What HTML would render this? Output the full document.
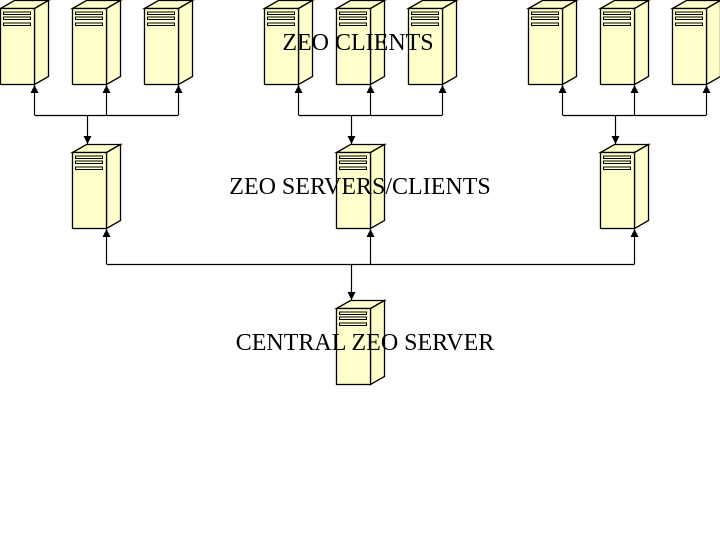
<!DOCTYPE html>
<html><head><style>html,body{margin:0;padding:0;background:#fff}svg{display:block}</style></head>
<body>
<svg width="720" height="540" viewBox="0 0 720 540" xmlns="http://www.w3.org/2000/svg">
<defs>
<g id="srv" stroke="#000" stroke-width="1.3" fill="#ffffcc">
<polygon points="0.5,8.5 14.5,0.5 48.5,0.5 34.5,8.5"/>
<polygon points="34.5,8.5 48.5,0.5 48.5,76.5 34.5,84.5"/>
<rect x="0.5" y="8.5" width="34" height="76"/>
<rect x="3.5" y="12" width="27" height="2.5" stroke-width="1"/>
<rect x="3.5" y="17" width="27" height="2.5" stroke-width="1"/>
<rect x="3.5" y="23" width="27" height="2.5" stroke-width="1"/>
</g>
<marker id="ar" markerWidth="8" markerHeight="8" refX="8" refY="4" orient="auto" markerUnits="userSpaceOnUse">
<polygon points="0,0 8,4 0,8" fill="#000"/></marker>
</defs>
<g>
<use href="#srv" x="0" y="0"/><use href="#srv" x="72" y="0"/><use href="#srv" x="144" y="0"/>
<use href="#srv" x="264" y="0"/><use href="#srv" x="336" y="0"/><use href="#srv" x="408" y="0"/>
<use href="#srv" x="528" y="0"/><use href="#srv" x="600" y="0"/><use href="#srv" x="672" y="0"/>
<use href="#srv" x="72" y="144"/><use href="#srv" x="336" y="144"/><use href="#srv" x="600" y="144"/>
<use href="#srv" x="336" y="300"/>
</g>
<g stroke="#000" stroke-width="1.2" fill="none">
<path d="M34.5 115.5H178.5M298.5 115.5H442.5M562.5 115.5H706.5M106.5 264.5H634.5"/>
<line x1="34.5" y1="115" x2="34.5" y2="85" marker-end="url(#ar)"/>
<line x1="106.5" y1="115" x2="106.5" y2="85" marker-end="url(#ar)"/>
<line x1="178.5" y1="115" x2="178.5" y2="85" marker-end="url(#ar)"/>
<line x1="298.5" y1="115" x2="298.5" y2="85" marker-end="url(#ar)"/>
<line x1="370.5" y1="115" x2="370.5" y2="85" marker-end="url(#ar)"/>
<line x1="442.5" y1="115" x2="442.5" y2="85" marker-end="url(#ar)"/>
<line x1="562.5" y1="115" x2="562.5" y2="85" marker-end="url(#ar)"/>
<line x1="634.5" y1="115" x2="634.5" y2="85" marker-end="url(#ar)"/>
<line x1="706.5" y1="115" x2="706.5" y2="85" marker-end="url(#ar)"/>
<line x1="87.5" y1="115" x2="87.5" y2="144" marker-end="url(#ar)"/>
<line x1="351.5" y1="115" x2="351.5" y2="144" marker-end="url(#ar)"/>
<line x1="615.5" y1="115" x2="615.5" y2="144" marker-end="url(#ar)"/>
<line x1="106.5" y1="264" x2="106.5" y2="229" marker-end="url(#ar)"/>
<line x1="370.5" y1="264" x2="370.5" y2="229" marker-end="url(#ar)"/>
<line x1="634.5" y1="264" x2="634.5" y2="229" marker-end="url(#ar)"/>
<line x1="351.5" y1="264" x2="351.5" y2="300" marker-end="url(#ar)"/>
</g>
<g font-family="Liberation Serif, serif" font-size="24" fill="#000" text-anchor="middle">
<text x="358" y="50">ZEO CLIENTS</text>
<text x="360" y="194">ZEO SERVERS/CLIENTS</text>
<text x="365" y="350">CENTRAL ZEO SERVER</text>
</g>
</svg>
</body></html>
